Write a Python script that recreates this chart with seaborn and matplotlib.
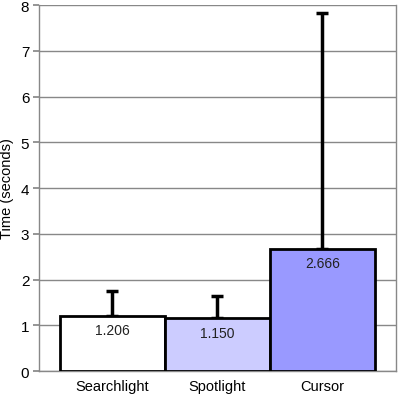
import numpy as np
import matplotlib
matplotlib.use("Agg")
import matplotlib.pyplot as plt
import seaborn as sns

# data
techniques = ["Searchlight", "Spotlight", "Cursor"]
mean_time = [1.206, 1.150, 2.666]
err_upper = [0.55, 0.50, 5.16]
bar_colors = ["#FFFFFF", "#CCCCFF", "#9999FF"]
y_ticks = [0, 1, 2, 3, 4, 5, 6, 7, 8]

sns.set_theme(style="white")
plt.rcParams['font.family'] = ['Liberation Sans', 'DejaVu Sans']

fig = plt.figure(figsize=(4.0, 4.06), dpi=100)
ax = fig.add_axes([0.0975, 0.0837, 0.8925, 0.9013])

sns.barplot(x=techniques, y=mean_time, hue=techniques, palette=bar_colors,
            width=1.0, edgecolor="black", linewidth=2, legend=False,
            saturation=1, zorder=3, ax=ax)

# only the plus side of the error bars
xpos = np.arange(len(techniques))
ax.errorbar(xpos, mean_time, yerr=[np.zeros(len(err_upper)), err_upper],
            fmt="none", ecolor="black", elinewidth=2.5, capsize=4,
            capthick=2.5, zorder=2)

for x, v in zip(xpos, mean_time):
    ax.text(x, v - 0.16, f"{v:.3f}", ha="center", va="top",
            fontsize=10, color="#222222", zorder=4)

ax.set_xlim(-0.7, 2.7)
ax.set_ylim(0, 8)
ax.set_yticks(y_ticks)
ax.yaxis.grid(True, color="#888888", linewidth=1)
ax.set_axisbelow(True)
for s in ["left", "bottom", "right"]:
    ax.spines[s].set_color("#888888")
    ax.spines[s].set_linewidth(1)
ax.spines["top"].set_visible(False)
ax.tick_params(axis="y", length=4, color="#888888", labelsize=11, pad=3, left=True)
ax.tick_params(axis="x", length=0, labelsize=10.5, pad=6)
for lbl in ax.get_xticklabels() + ax.get_yticklabels():
    lbl.set_color("black")
ax.set_xlabel("")
ax.set_ylabel("Time (seconds)", fontsize=10.5, color="black", labelpad=5)

fig.savefig("out.png", dpi=100)
plt.close(fig)
